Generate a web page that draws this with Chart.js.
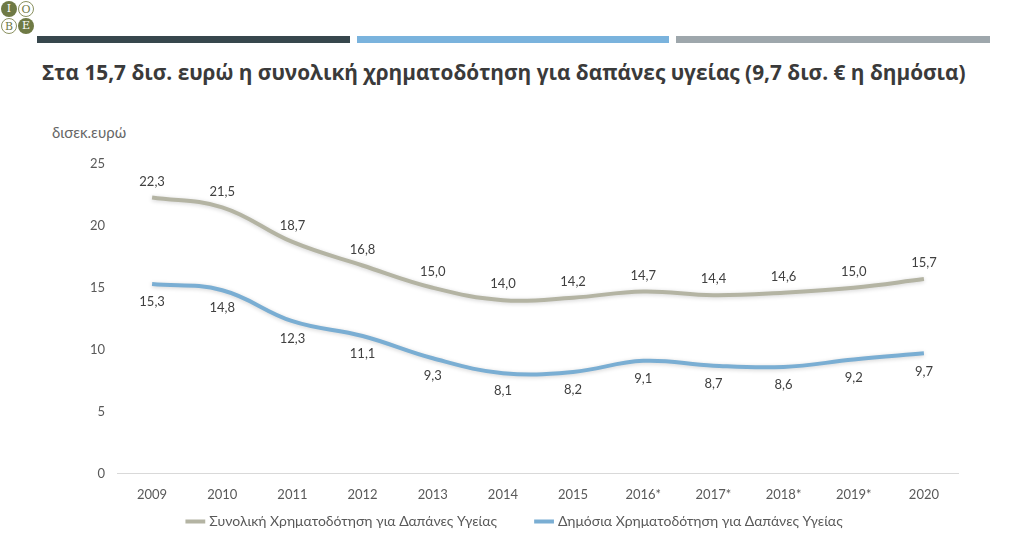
<!DOCTYPE html>
<html>
<head>
<meta charset="utf-8">
<script src="https://cdn.jsdelivr.net/npm/chart.js@4"></script>
<style>
  body { margin: 0; width: 1024px; height: 536px; background: #fff; position: relative; overflow: hidden; font-family: Lato, "Open Sans", sans-serif; }
  .logo { position: absolute; left: 1px; top: 1px; width: 36px; height: 36px; }
  .logo span { position: absolute; width: 16px; height: 16px; border-radius: 50%; font: 11px "DejaVu Serif", serif; line-height: 16px; text-align: center; box-sizing: border-box; }
  .bar { position: absolute; top: 36px; height: 7px; }
  h1 { position: absolute; left: 42px; top: 58px; margin: 0; font: bold 20.8px "Open Sans", sans-serif; color: #3a3a3a; white-space: nowrap; }
  .unit { position: absolute; left: 52px; top: 123px; font-size: 15px; color: #666; }
  #wrap { position: absolute; left: 0; top: 140px; width: 1024px; height: 421px; }
</style>
</head>
<body>
<div class="logo">
  <span style="left:0;top:0;background:#6f7a45;color:#fff;">I</span>
  <span style="left:17px;top:0;border:1px solid #8a9160;color:#6f7a45;">O</span>
  <span style="left:0;top:17px;border:1px solid #8a9160;color:#6f7a45;">B</span>
  <span style="left:17px;top:17px;background:#6f7a45;color:#fff;">E</span>
</div>
<div class="bar" style="left:37px;width:313px;background:#37474d;"></div>
<div class="bar" style="left:357px;width:312px;background:#7ab3dd;"></div>
<div class="bar" style="left:676px;width:314px;background:#9ea7ac;"></div>
<h1>Στα 15,7 δισ. ευρώ η συνολική χρηματοδότηση για δαπάνες υγείας (9,7 δισ. € η δημόσια)</h1>
<div class="unit">δισεκ.ευρώ</div>
<div id="wrap"><canvas id="myChart"></canvas></div>
<script>
var years = ['2009', '2010', '2011', '2012', '2013', '2014', '2015', '2016*', '2017*', '2018*', '2019*', '2020'];
var totalFunding = [22.3, 21.5, 18.7, 16.8, 15.0, 14.0, 14.2, 14.7, 14.4, 14.6, 15.0, 15.7];
var publicFunding = [15.3, 14.8, 12.3, 11.1, 9.3, 8.1, 8.2, 9.1, 8.7, 8.6, 9.2, 9.7];
var seriesNames = ['Συνολική Χρηματοδότηση για Δαπάνες Υγείας', 'Δημόσια Χρηματοδότηση για Δαπάνες Υγείας'];

// value labels: total above the line, public below
var labelOffsets = [-16, 18];
var legendGap = 40;

var valueLabels = {
    id: 'valueLabels',
    afterDatasetsDraw: function(chart) {
        var ctx = chart.ctx;
        ctx.save();
        ctx.font = '13px Lato, sans-serif';
        ctx.fillStyle = '#404040';
        ctx.textAlign = 'center';
        ctx.textBaseline = 'middle';
        chart.data.datasets.forEach(function(ds, i) {
            var meta = chart.getDatasetMeta(i);
            meta.data.forEach(function(pt, j) {
                var txt = ds.data[j].toFixed(1).replace('.', ',');
                ctx.fillText(txt, pt.x, pt.y + labelOffsets[i]);
            });
        });
        ctx.restore();
    }
};

var softGlow = {
    id: 'softGlow',
    beforeDatasetDraw: function(chart) {
        var ctx = chart.ctx;
        ctx.save();
        ctx.shadowColor = 'rgba(0,0,0,0.18)';
        ctx.shadowBlur = 4;
        ctx.shadowOffsetY = 1;
    },
    afterDatasetDraw: function(chart) {
        chart.ctx.restore();
    }
};

// wide gap between legend items without a tall legend box
var legendFit = {
    id: 'legendFit',
    beforeLayout: function(chart) {
        var lg = chart.legend;
        if (lg && !lg._fitPatched) {
            var fit = lg.fit;
            lg.fit = function() { fit.call(this); this.height = 44; };
            lg._fitPatched = true;
        }
    },
    afterLayout: function(chart) {
        var lg = chart.legend;
        if (!lg) return;
        lg.top = chart.chartArea.bottom + 1;
        lg.height = 110;
        lg.bottom = lg.top + lg.height;
        // trailing item padding pushes the row left; recentre it
        lg.left += legendGap - 4;
        lg.right += legendGap - 4;
    }
};

var tickFont = { family: 'Lato, sans-serif', size: 13 };

var myChart = new Chart('myChart', {
    type: 'line',
    data: {
        labels: years,
        datasets: [{
            label: seriesNames[0],
            data: totalFunding,
            borderColor: '#b4b4a3',
            backgroundColor: '#b4b4a3',
            borderWidth: 4,
            pointRadius: 0,
            tension: 0.4
        }, {
            label: seriesNames[1],
            data: publicFunding,
            borderColor: '#7aaed3',
            backgroundColor: '#7aaed3',
            borderWidth: 4,
            pointRadius: 0,
            tension: 0.4
        }]
    },
    options: {
        responsive: true,
        maintainAspectRatio: false,
        animation: false,
        layout: { padding: { top: 24, right: 65, bottom: 0, left: 0 } },
        plugins: {
            tooltip: { enabled: false },
            legend: {
                position: 'bottom',
                labels: {
                    usePointStyle: true,
                    pointStyle: 'line',
                    padding: legendGap,
                    color: '#595959',
                    font: { family: 'Lato, sans-serif', size: 14 }
                }
            }
        },
        scales: {
            x: {
                offset: true,
                grid: { display: false, drawTicks: false },
                border: { display: false },
                ticks: { color: '#595959', font: tickFont, padding: 14 }
            },
            y: {
                min: 0,
                max: 25,
                ticks: { stepSize: 5, color: '#595959', font: tickFont, padding: 12 },
                border: { display: false },
                grid: {
                    color: function(c) { return c.tick && c.tick.value === 0 ? '#d9d9d9' : 'transparent'; },
                    drawTicks: false
                },
                afterFit: function(scale) { scale.width = 117; }
            }
        }
    },
    plugins: [softGlow, valueLabels, legendFit]
});
</script>
</body>
</html>
